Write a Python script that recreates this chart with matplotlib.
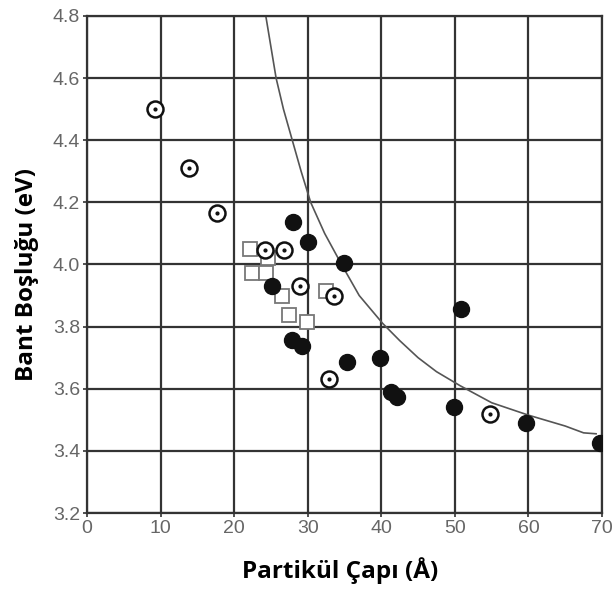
import matplotlib
matplotlib.use("Agg")
import matplotlib.pyplot as plt

# Data
open_x = [9.3, 13.8, 17.7, 24.2, 26.8, 28.9, 33.6, 32.9, 54.8]
open_y = [4.50, 4.31, 4.167, 4.046, 4.045, 3.93, 3.90, 3.63, 3.52]

filled_x = [28.0, 30.0, 34.9, 25.2, 27.9, 29.2, 35.3, 39.8, 41.3, 42.1, 49.9, 50.9, 59.7, 69.8]
filled_y = [4.138, 4.073, 4.004, 3.93, 3.757, 3.738, 3.687, 3.70, 3.59, 3.575, 3.54, 3.856, 3.49, 3.425]

square_x = [22.1, 22.4, 24.3, 24.6, 26.5, 27.4, 29.9, 32.5]
square_y = [4.05, 3.972, 3.974, 4.02, 3.897, 3.838, 3.816, 3.913]

curve_x = [24.3, 25.0, 25.7, 26.7, 27.9, 29.1, 30.4, 32.3, 34.6, 37.0, 40.2, 42.5, 45.0,
           47.5, 50.7, 55.0, 60.0, 65.0, 67.5, 69.2]
curve_y = [4.80, 4.70, 4.60, 4.50, 4.40, 4.30, 4.20, 4.10, 4.00, 3.90, 3.81, 3.755, 3.70,
           3.655, 3.61, 3.555, 3.515, 3.48, 3.458, 3.455]

x_ticks = [0, 10, 20, 30, 40, 50, 60, 70]
y_ticks = [3.2, 3.4, 3.6, 3.8, 4.0, 4.2, 4.4, 4.6, 4.8]

fig = plt.figure(figsize=(6.13, 5.90), dpi=100)
ax = fig.add_axes([0.142, 0.1305, 0.840, 0.8425])

ax.set_xlim(0, 70)
ax.set_ylim(3.2, 4.8)
ax.set_xticks(x_ticks)
ax.set_yticks(y_ticks)
ax.set_xticklabels([str(t) for t in x_ticks])
ax.set_yticklabels([f"{t:.1f}" for t in y_ticks])
ax.grid(True, color="#333333", linewidth=1.6)
ax.set_axisbelow(True)
for s in ax.spines.values():
    s.set_color("#333333")
    s.set_linewidth(1.6)
ax.tick_params(axis="both", direction="out", length=3, width=1.2, color="#333333",
               labelcolor="#666666", labelsize=14, pad=2)
for lab in ax.get_xticklabels() + ax.get_yticklabels():
    lab.set_family("Liberation Sans")

ax.plot(curve_x, curve_y, color="#555555", linewidth=1.2, zorder=2)

ax.plot(square_x, square_y, linestyle="none", marker="s", markersize=10,
        markerfacecolor="white", markeredgecolor="#777777", markeredgewidth=1.3, zorder=3)
ax.plot(filled_x, filled_y, linestyle="none", marker="o", markersize=11.5,
        markerfacecolor="#111111", markeredgecolor="#111111", zorder=4)
ax.plot(open_x, open_y, linestyle="none", marker="o", markersize=11.5,
        markerfacecolor="white", markeredgecolor="#111111", markeredgewidth=1.8, zorder=5)
ax.plot(open_x, open_y, linestyle="none", marker="o", markersize=2,
        markerfacecolor="#111111", markeredgecolor="#111111", zorder=6)

ax.set_xlabel("Partikül Çapı (Å)", fontsize=17.5, fontweight="bold",
              family="Open Sans", labelpad=14.5)
ax.set_ylabel("Bant Boşluğu (eV)", fontsize=17.5, fontweight="bold",
              family="Open Sans", labelpad=10)
ax.xaxis.label.set_x(0.491)
ax.yaxis.label.set_y(0.479)

fig.savefig("out.png", dpi=100)
